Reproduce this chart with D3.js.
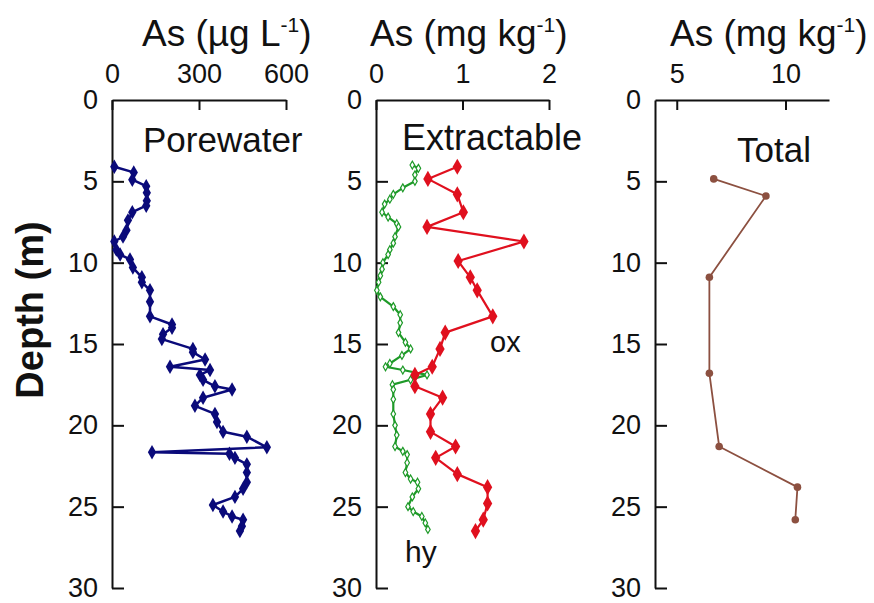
<!DOCTYPE html>
<html><head><meta charset="utf-8">
<script src="https://cdn.jsdelivr.net/npm/d3@7"></script>
<style>
body{margin:0;background:#fff;}
svg{display:block;font-family:"Liberation Sans",Arial,sans-serif;}
.axis path,.axis line{stroke:#111;stroke-width:2;}
.axis text{font-size:27px;fill:#111;font-family:"Liberation Sans",Arial,sans-serif;}
</style></head>
<body>
<svg id="chart" width="874" height="603"></svg>
<script>
// ---------- data ----------
const depthTicks = [0, 5, 10, 15, 20, 25, 30];
const pwTicks = [0, 300, 600];
const extTicks = [0, 1, 2];
const totTicks = [5, 10];

// Porewater As (µg/L)
const pwDepth = [4.1,4.45,4.9,5.3,5.7,6.2,6.5,6.9,7.4,8.0,8.4,8.7,9.2,9.5,9.8,10.3,10.9,11.2,11.7,12.4,13.3,13.8,14.0,14.4,14.7,15.3,15.5,15.95,16.4,16.6,16.9,17.2,17.6,17.8,18.3,18.8,19.3,19.8,20.4,20.7,21.35,21.65,21.75,22.0,22.4,22.9,23.5,23.9,24.4,24.9,25.3,25.6,25.8,26.2,26.5];
const pwAs    = [8,75,70,118,120,120,118,70,55,50,38,8,15,28,62,72,103,103,131,131,131,207,207,176,172,279,279,321,200,338,303,314,355,414,314,286,355,362,383,465,534,138,405,424,465,465,465,452,424,348,383,414,452,448,441];

// Extractable hy (mg/kg)
const hyDepth = [4.0,4.2,4.6,5.0,5.4,5.8,6.1,6.4,6.9,7.2,7.6,7.8,8.4,8.8,9.2,9.5,10.0,10.4,10.8,11.2,11.7,12.1,12.7,13.2,13.7,14.3,14.9,15.3,15.7,16.2,16.4,16.6,16.9,17.2,17.5,17.8,18.4,19.3,20.0,20.6,21.3,21.6,21.8,22.3,22.9,23.3,23.5,23.9,24.4,25.0,25.3,25.6,26.0,26.4];
const hyAs    = [0.42,0.49,0.45,0.45,0.31,0.20,0.16,0.10,0.07,0.14,0.24,0.26,0.22,0.20,0.16,0.14,0.08,0.07,0.05,0.03,0.01,0.05,0.20,0.28,0.28,0.26,0.34,0.40,0.30,0.16,0.11,0.31,0.59,0.40,0.19,0.20,0.20,0.20,0.22,0.24,0.22,0.31,0.36,0.36,0.34,0.40,0.48,0.49,0.42,0.37,0.43,0.53,0.57,0.60];

// Extractable ox (mg/kg)
const oxDepth = [4.1,4.85,5.8,6.9,7.8,8.7,9.9,10.9,11.7,13.3,14.3,15.3,16.4,16.9,17.6,18.3,19.3,20.4,21.3,22.0,23.0,23.8,24.8,25.8,26.5];
const oxAs    = [0.94,0.60,0.94,1.01,0.59,1.71,0.95,1.09,1.17,1.35,0.80,0.74,0.65,0.45,0.45,0.77,0.63,0.63,0.92,0.69,0.94,1.29,1.29,1.24,1.15];

// Total As (mg/kg)
const totDepth = [4.85,5.9,10.9,16.8,21.3,23.8,25.8];
const totAs    = [6.7,9.1,6.5,6.5,6.95,10.55,10.45];

// ---------- layout ----------
const svg = d3.select("#chart");
const yTop = 100, yBot = 588;
const y = d3.scaleLinear().domain([0, 30]).range([yTop, yBot]);

const panels = [
  {x0:112, x1:286, domain:[0,600], ticks:pwTicks, title:["As (µg L","-1",")"], tx:142},
  {x0:376, x1:549, domain:[0,2], ticks:extTicks, title:["As (mg kg","-1",")"], tx:370},
  {x0:655, x1:829, domain:[4,12], ticks:totTicks, title:["As (mg kg","-1",")"], tx:670}
];

panels.forEach(p => {
  p.x = d3.scaleLinear().domain(p.domain).range([p.x0, p.x1]);
  svg.append("g").attr("class","axis").attr("transform",`translate(0,${yTop})`)
    .call(d3.axisTop(p.x).tickValues(p.ticks).tickSizeInner(-10).tickSizeOuter(0).tickPadding(17).tickFormat(d3.format("d")));
  const gy = svg.append("g").attr("class","axis").attr("transform",`translate(${p.x0},0)`)
    .call(d3.axisLeft(y).tickValues(depthTicks).tickSizeInner(-12).tickSizeOuter(0).tickPadding(14).tickFormat(d3.format("d")));
  gy.selectAll(".tick line").filter(d => d === 0).remove();
  const t = svg.append("text").attr("x", p.tx).attr("y", 46).attr("font-size", 37).attr("fill","#111");
  t.append("tspan").text(p.title[0]);
  t.append("tspan").text(p.title[1]).attr("font-size", 21).attr("dy", -14);
  t.append("tspan").text(p.title[2]).attr("dy", 14);
});

// y-axis label
svg.append("text").attr("transform","translate(43,310) rotate(-90)")
  .attr("text-anchor","middle").attr("font-size",38).attr("font-weight","bold").attr("fill","#111")
  .text("Depth (m)");

// annotations
const ann = [
  {t:"Porewater", x:143, y:152, s:35},
  {t:"Extractable", x:402, y:150, s:36},
  {t:"Total", x:737, y:162, s:35},
  {t:"ox", x:490, y:352, s:29},
  {t:"hy", x:405, y:562, s:30}
];
ann.forEach(a => svg.append("text").attr("x",a.x).attr("y",a.y).attr("font-size",a.s).attr("fill","#111").text(a.t));

// ---------- series ----------
function series(depths, vals, xs, color, lw, markerFn) {
  const pts = depths.map((d,i) => [xs(vals[i]), y(d)]);
  svg.append("path").attr("d", d3.line()(pts)).attr("fill","none")
    .attr("stroke", color).attr("stroke-width", lw).attr("stroke-linejoin","round");
  markerFn(svg.append("g").selectAll("path").data(pts).join("path"), color);
}

const diamond = d3.symbol().type(d3.symbolDiamond);
series(pwDepth, pwAs, panels[0].x, "#0a0a7a", 2.5, (sel,c) =>
  sel.attr("d", diamond.size(60)()).attr("transform", d => `translate(${d[0]},${d[1]})`).attr("fill", c));

series(hyDepth, hyAs, panels[1].x, "#1e9a28", 2.2, (sel,c) =>
  sel.attr("d", diamond.size(18)()).attr("transform", d => `translate(${d[0]},${d[1]})`)
     .attr("fill", "#fff").attr("stroke", c).attr("stroke-width", 1.2));

series(oxDepth, oxAs, panels[1].x, "#e0101e", 2.2, (sel,c) =>
  sel.attr("d", diamond.size(75)()).attr("transform", d => `translate(${d[0]},${d[1]})`).attr("fill", c));

series(totDepth, totAs, panels[2].x, "#8c5040", 1.8, (sel,c) =>
  sel.attr("d", d3.symbol().type(d3.symbolCircle).size(45)()).attr("transform", d => `translate(${d[0]},${d[1]})`).attr("fill", c));
</script>
</body></html>
